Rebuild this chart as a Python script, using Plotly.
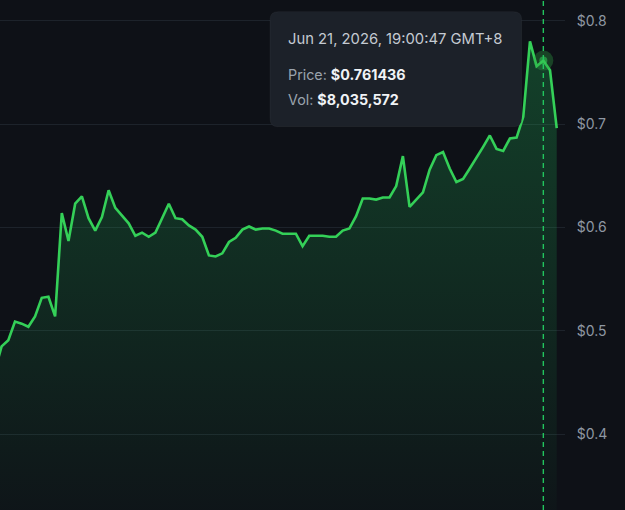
import pandas as pd
import plotly.graph_objects as go

# ---- data ----
prices = [
    0.462, 0.485, 0.491, 0.509, 0.507, 0.504, 0.514, 0.532, 0.533, 0.514,
    0.614, 0.587, 0.623, 0.630, 0.609, 0.597, 0.610, 0.636, 0.619, 0.611,
    0.604, 0.592, 0.595, 0.591, 0.595, 0.609, 0.623, 0.609, 0.608, 0.602,
    0.598, 0.591, 0.573, 0.572, 0.575, 0.586, 0.590, 0.598, 0.601, 0.598,
    0.599, 0.599, 0.597, 0.594, 0.594, 0.594, 0.582, 0.592, 0.592, 0.592,
    0.591, 0.591, 0.597, 0.599, 0.611, 0.628, 0.628, 0.627, 0.629, 0.629,
    0.640, 0.669, 0.620, 0.627, 0.634, 0.656, 0.670, 0.673, 0.657, 0.644,
    0.647, 0.657, 0.667, 0.678, 0.689, 0.676, 0.674, 0.686, 0.687, 0.707,
    0.780, 0.756, 0.761436, 0.752, 0.696,
]
hover_index = 82
hover_time_label = "Jun 21, 2026, 19:00:47 GMT+8"
hover_volume = 8035572
y_ticks = [0.4, 0.5, 0.6, 0.7, 0.8]
y_tick_labels = ["$0.4", "$0.5", "$0.6", "$0.7", "$0.8"]

interval = pd.Timedelta(minutes=15)
hover_time = pd.Timestamp("2026-06-21 19:00:47")
times = [hover_time + (i - hover_index) * interval for i in range(len(prices))]

BG = "#0e1117"
GREEN = "#34d058"

fig = go.Figure()
fig.add_trace(go.Scatter(
    x=times, y=prices, mode="lines",
    line=dict(color=GREEN, width=2.6),
    fill="tozeroy",
    fillgradient=dict(
        type="vertical",
        colorscale=[[0, "rgba(34,197,94,0.02)"], [1, "rgba(34,197,94,0.27)"]],
        start=0.32, stop=0.78,
    ),
    hoverinfo="skip", showlegend=False,
))
# hover marker (halo + dot)
fig.add_trace(go.Scatter(
    x=[times[hover_index]], y=[prices[hover_index]], mode="markers",
    marker=dict(size=20, color="rgba(46,160,67,0.35)"),
    hoverinfo="skip", showlegend=False,
))
fig.add_trace(go.Scatter(
    x=[times[hover_index]], y=[prices[hover_index]], mode="markers",
    marker=dict(size=8, color="rgba(52,208,88,0.55)"),
    hoverinfo="skip", showlegend=False,
))

# dashed crosshair
fig.add_shape(type="line", xref="x", yref="paper",
              x0=times[hover_index], x1=times[hover_index], y0=0, y1=1,
              line=dict(color="#22c55e", width=1.4, dash="5px,4px"), layer="above")

# tooltip box (rounded)
W, H = 565.0, 510.0
px0, px1, py0, py1, r = 270, 521.7, 11.7, 126.7, 8
x0, x1 = px0 / W, px1 / W
yt, yb = 1 - py0 / H, 1 - py1 / H
rx, ry = r / W, r / H
path = (f"M {x0+rx},{yt} L {x1-rx},{yt} Q {x1},{yt} {x1},{yt-ry} "
        f"L {x1},{yb+ry} Q {x1},{yb} {x1-rx},{yb} L {x0+rx},{yb} "
        f"Q {x0},{yb} {x0},{yb+ry} L {x0},{yt-ry} Q {x0},{yt} {x0+rx},{yt} Z")
fig.add_shape(type="path", xref="paper", yref="paper", path=path,
              fillcolor="#1c2129", line=dict(color="rgba(255,255,255,0.04)", width=1),
              layer="above")

tx = 286 / W
fig.add_annotation(xref="paper", yref="paper", x=tx, y=1 - 39.5 / H,
                   xanchor="left", yanchor="middle", showarrow=False,
                   text=hover_time_label,
                   font=dict(family="Inter", size=14.8, color="#c4cad2"))
fig.add_annotation(xref="paper", yref="paper", x=tx, y=1 - 74.5 / H,
                   xanchor="left", yanchor="middle", showarrow=False,
                   text=f"<span style='color:#9aa3ad'>Price: </span><b>${prices[hover_index]:.6f}</b>",
                   font=dict(family="Inter", size=14.3, color="#f0f3f6"))
fig.add_annotation(xref="paper", yref="paper", x=tx, y=1 - 100 / H,
                   xanchor="left", yanchor="middle", showarrow=False,
                   text=f"<span style='color:#9aa3ad'>Vol: </span><b>${hover_volume:,}</b>",
                   font=dict(family="Inter", size=14.3, color="#f0f3f6"))

x_start = times[0] + 0.759 * interval
x_end = times[0] + 85.24 * interval

fig.update_layout(
    width=625, height=510,
    margin=dict(l=0, r=60, t=0, b=0),
    paper_bgcolor=BG, plot_bgcolor=BG,
    showlegend=False,
    xaxis=dict(visible=False, range=[x_start, x_end], showgrid=False, zeroline=False),
    yaxis=dict(
        side="right", range=[0.3268, 0.82],
        tickmode="array", tickvals=y_ticks, ticktext=y_tick_labels,
        showgrid=True, gridcolor="#1d232b", gridwidth=1,
        zeroline=False, showline=False,
        ticks="outside", ticklen=8, tickcolor="rgba(0,0,0,0)",
        tickfont=dict(family="Inter", size=14, color="#8f98a3"),
    ),
)

fig.write_html("out.html")
